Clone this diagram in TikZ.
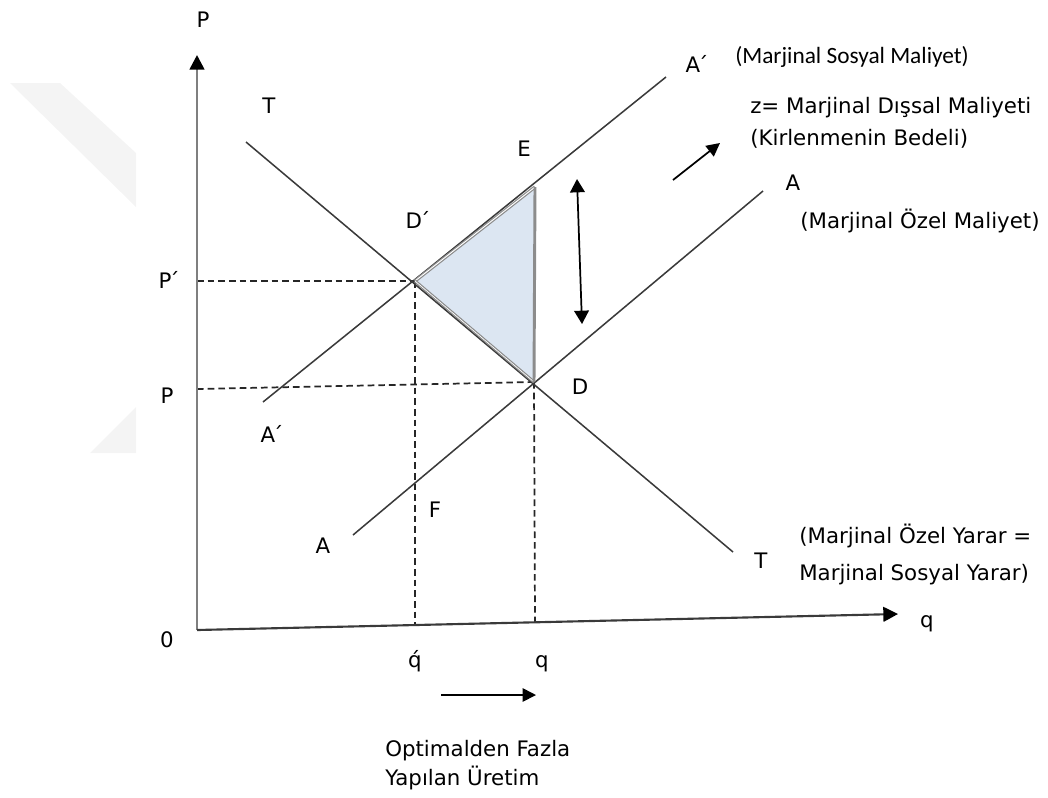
\documentclass[tikz,border=0pt]{standalone}
\usepackage{fontspec}
\setmainfont{DejaVu Sans}
\newfontfamily\carl{Carlito}
\usetikzlibrary{arrows.meta}
\definecolor{lin}{HTML}{3A3A3A}
\definecolor{axg}{HTML}{7F7F7F}
\definecolor{tri}{HTML}{DCE6F2}
\definecolor{wm}{HTML}{F4F4F4}
\definecolor{edge}{HTML}{8C8C8C}
\newcommand{\acc}[1]{#1\kern-0.12em´}
\begin{document}
\begin{tikzpicture}[x=0.75pt,y=-0.75pt,
  curve/.style={draw=lin, line width=1.15pt},
  guide/.style={draw=black!85, line width=1.3pt, dash pattern=on 5pt off 3pt},
  lbl/.style={font=\fontsize{16}{19}\selectfont, text=black, inner sep=0pt, anchor=base},
  txt/.style={font=\fontsize{16}{19}\selectfont, text=black, inner sep=0pt, anchor=base west},
  arr/.style={-{Triangle[length=10pt,width=10pt]}, line width=1.3pt, draw=black},
  darr/.style={{Triangle[length=10pt,width=11pt]}-{Triangle[length=10pt,width=11pt]}, line width=1.3pt, draw=black},
]
\useasboundingbox (0,0) rectangle (1048,797);
% watermark
\fill[wm] (10,83) -- (60,83) -- (136,153) -- (136,207) -- cycle;
\fill[wm] (136,407) -- (90,453) -- (136,453) -- cycle;

% key points
\coordinate (O) at (197,630);
\coordinate (Ytip) at (197,55);
\coordinate (Xtip) at (898,614);
\coordinate (Dp) at (415,281);
\coordinate (D) at (534,382);
\coordinate (E) at (535,187);
\coordinate (T1) at (246,142);
\coordinate (T2) at (733,552);
\coordinate (Ap1) at (263,402);
\coordinate (Ap2) at (666,77);
\coordinate (A1) at (353,535);
\coordinate (A2) at (763,191);
\coordinate (Pp) at (197,281);
\coordinate (Pl) at (197,389);
\coordinate (qp) at (415,626);
\coordinate (qq) at (535,622);

% shaded triangle
\fill[tri] (Dp) -- (E) -- (D) -- cycle;

% dashed guides
\draw[guide] (Pp) -- (Dp);
\draw[guide] (Pl) -- (D);
\draw[guide] (Dp) -- (qp);
\draw[guide] (D) -- (qq);

% curves
\draw[curve] (T1) -- (T2);
\draw[curve] (Ap1) -- (Ap2);
\draw[curve] (A1) -- (A2);

% triangle edges
\draw[draw=edge, line width=0.9pt, double=white, double distance=0.7pt] (Dp) -- (E);
\draw[draw=edge, line width=0.9pt, double=white, double distance=0.5pt] (Dp) -- (D);
\draw[draw=edge, line width=2.2pt] (E) -- (D);

% axes
\draw[draw=axg, line width=2pt, -{Triangle[length=11pt,width=11pt,color=black]}] (O) -- (Ytip);
\draw[draw=lin, line width=1.6pt, -{Triangle[length=11pt,width=11pt,color=black]}] (O) -- (Xtip);

% arrows
\coordinate (da1) at (577,179);
\coordinate (da2) at (582,324);
\draw[darr] (da1) -- (da2);
\coordinate (zr1) at (673,180);
\coordinate (zr2) at (720,143);
\draw[arr] (zr1) -- (zr2);
\coordinate (br1) at (441,695);
\coordinate (br2) at (536,695);
\draw[arr] (br1) -- (br2);

% letter labels
\node[lbl] (lP) at (203,27) {P};
\node[lbl] (lT) at (269,113) {T};
\node[lbl] (lE) at (524,156) {E};
\node[lbl] (lDp) at (418,228) {\acc{D}};
\node[lbl] (lApT) at (697,72) {\acc{A}};
\node[lbl] (lAR) at (793,190) {A};
\node[lbl] (lPp) at (169,288) {\acc{P}};
\node[lbl] (lPl) at (167,403) {P};
\node[lbl] (lApL) at (272,442) {\acc{A}};
\node[lbl] (lD) at (580,394) {D};
\node[lbl] (lF) at (435,517) {F};
\node[lbl] (lAL) at (323,553) {A};
\node[lbl] (lTL) at (761,568) {T};
\node[lbl] (lq) at (927,627) {q};
\node[lbl] (l0) at (167,647) {0};
\node[lbl] (lqp) at (415,667) {\ooalign{q\cr\hidewidth´\hidewidth\cr}};
\node[lbl] (lqq) at (542,667) {q};

% text labels
\node[txt, font=\carl\fontsize{17.5}{20}\selectfont] (tMSM) at (735,63) {(Marjinal Sosyal Maliyet)};
\node[txt] (tz) at (750,113) {z= Marjinal Dışsal Maliyeti};
\node[txt] (tK) at (750,145) {(Kirlenmenin Bedeli)};
\node[txt] (tMOM) at (800,228) {(Marjinal Özel Maliyet)};
\node[txt] (tY1) at (799,543) {(Marjinal Özel Yarar =};
\node[txt] (tY2) at (799,580) {Marjinal Sosyal Yarar)};
\node[txt] (tO1) at (385,756) {Optimalden Fazla};
\node[txt] (tO2) at (385,785) {Yapılan Üretim};
\end{tikzpicture}
\end{document}
